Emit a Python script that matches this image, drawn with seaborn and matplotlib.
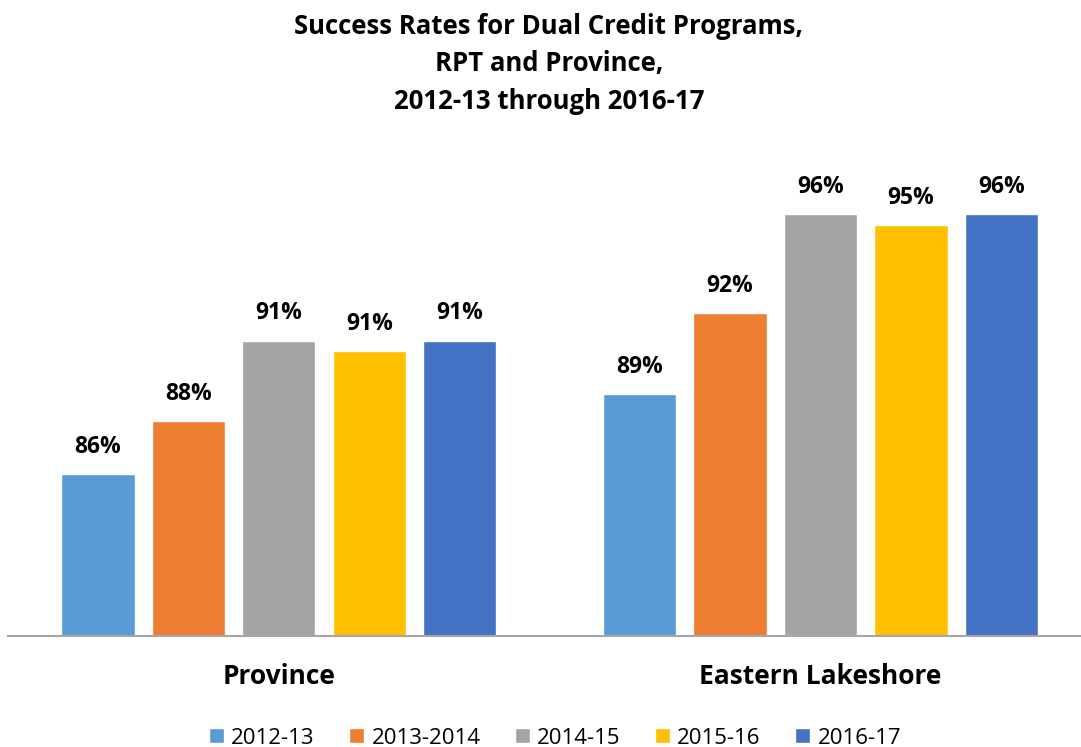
import matplotlib
matplotlib.use("Agg")
import matplotlib.pyplot as plt
import seaborn as sns
import pandas as pd

# values (percent)
groups = ["Province", "Eastern Lakeshore"]
years = ["2012-13", "2013-2014", "2014-15", "2015-16", "2016-17"]
province = [86.07, 88.06, 91.07, 90.69, 91.07]
eastern = [89.07, 92.1, 95.82, 95.41, 95.82]
colors = ["#5B9BD5", "#ED7D31", "#A5A5A5", "#FFC000", "#4472C4"]

rows = []
for g, vals in zip(groups, [province, eastern]):
    for y, v in zip(years, vals):
        rows.append({"group": g, "year": y, "rate": v})
df = pd.DataFrame(rows)

sns.set_theme(style="white")
plt.rcParams["font.family"] = ["Open Sans", "DejaVu Sans"]
plt.rcParams["text.color"] = "black"

fig = plt.figure(figsize=(10.81, 7.47), dpi=100)
ax = fig.add_axes([8 / 1081, 1 - 635.7 / 747, 1 - 8 / 1081, (635.7 - 102.7) / 747])

sns.barplot(data=df, x="group", y="rate", hue="year", palette=colors,
            saturation=1, width=0.835, gap=0.19, ax=ax, legend=True)

ax.set_ylim(80, 100)
ax.set_xlim(-0.5, 1.481)

for cont in ax.containers:
    ax.bar_label(cont, labels=[f"{v:.0f}%" for v in cont.datavalues],
                 padding=11, fontsize=16.5, fontweight="bold", color="black")

ax.set_xlabel("")
ax.set_ylabel("")
ax.set_yticks([])
ax.tick_params(axis="x", length=0, pad=20)
for lab in ax.get_xticklabels():
    lab.set_fontsize(19)
    lab.set_fontweight("bold")
    lab.set_color("black")

for s in ["top", "left", "right"]:
    ax.spines[s].set_visible(False)
ax.spines["bottom"].set_color("#A6A6A6")
ax.spines["bottom"].set_linewidth(1.5)

handles, labels = ax.get_legend_handles_labels()
leg = ax.legend(handles, labels, loc="center", bbox_to_anchor=(555 / 1081, 9 / 747),
                bbox_transform=fig.transFigure, ncol=5, frameon=False, fontsize=16,
                handlelength=0.68, handleheight=0.68, handletextpad=0.32, columnspacing=1.55,
                borderpad=0.1)
for t in leg.get_texts():
    t.set_color("black")

fig.text(549 / 1081, 1 - 13 / 747,
         "Success Rates for Dual Credit Programs,\nRPT and Province,\n2012-13 through 2016-17",
         ha="center", va="top", fontsize=18.5, fontweight="bold", linespacing=1.5,
         color="black")

fig.savefig("out.png", dpi=100)
